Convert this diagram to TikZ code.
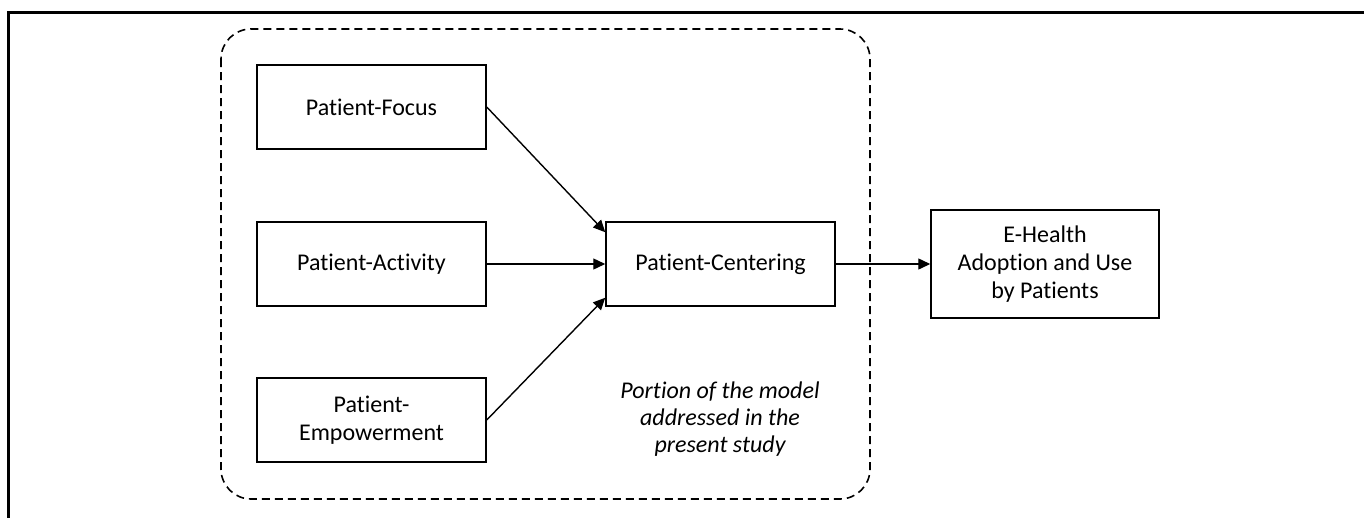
\documentclass[tikz,border=0pt]{standalone}
\usepackage{fontspec}
\setmainfont{Carlito}[Ligatures=NoCommon]
\usetikzlibrary{arrows.meta}
\begin{document}
\begin{tikzpicture}[x=1pt,y=-1pt,
  box/.style={draw, line width=1.5pt, inner sep=0pt, align=center,
    font=\fontsize{24}{28}\selectfont},
  arr/.style={line width=1.4pt, -{Triangle[length=12pt,width=11pt]}},
  region/.style={draw, line width=1.6pt, dash pattern=on 8pt off 5pt, rounded corners=30pt}]
\useasboundingbox (0,0) rectangle (1364,517);
% outer frame (clipped at right and bottom)
\draw[line width=3pt] (8.5,530) -- (8.5,12) -- (1375,12);
% dashed region
\draw[region] (221,29) rectangle (870,499);
% nodes
\node[box, minimum width=229pt, minimum height=84pt] (F) at (371.5,107) {Patient-Focus};
\node[box, minimum width=229pt, minimum height=84pt] (A) at (371.5,264) {Patient-Activity};
\node[box, minimum width=229pt, minimum height=84pt] (E) at (371.5,420) {Patient-\\Empowerment};
\node[box, minimum width=229pt, minimum height=84pt] (C) at (720.5,264) {Patient-Centering};
\node[box, minimum width=228pt, minimum height=108pt] (H) at (1045,264) {E-Health\\Adoption and Use\\by Patients};
\node[align=center, font=\fontsize{24}{27}\selectfont\itshape] (L) at (720,419) {Portion of the model\\addressed in the\\present study};
% connectors
\coordinate (Cin1) at ([yshift=-11pt]C.north west);
\coordinate (Cin3) at ([yshift=9pt]C.south west);
\draw[arr] (F.east) -- (Cin1);
\draw[arr] (A.east) -- (C.west);
\draw[arr] (E.east) -- (Cin3);
\draw[arr] (C.east) -- (H.west);
\end{tikzpicture}
\end{document}
